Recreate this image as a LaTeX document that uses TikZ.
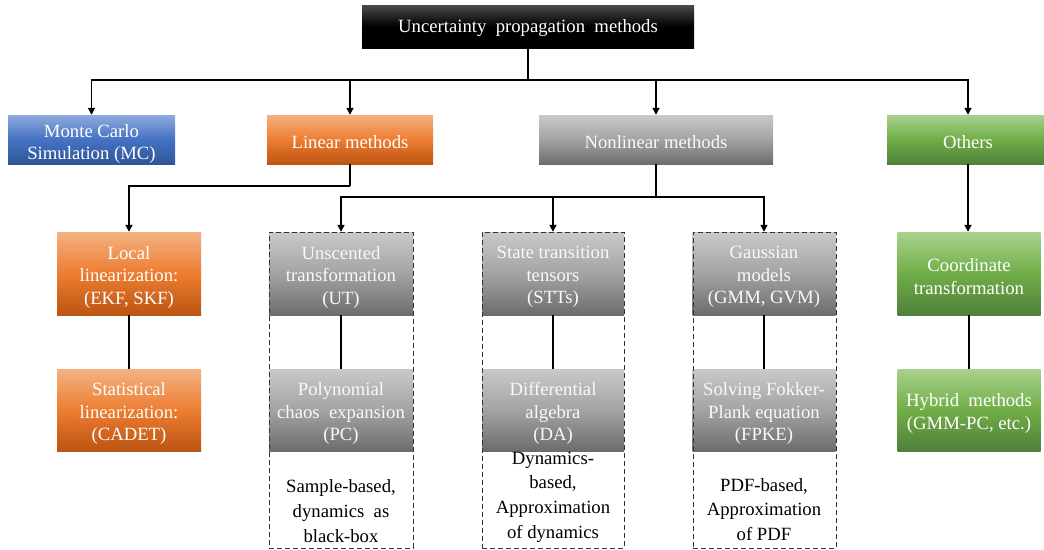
\documentclass[tikz,border=0pt]{standalone}
\usepackage{fontspec}
\setmainfont{Liberation Serif}
\usetikzlibrary{arrows.meta,calc}
\definecolor{orTop}{HTML}{F4B183}
\definecolor{orMid}{HTML}{ED7D31}
\definecolor{orBot}{HTML}{BC5412}
\definecolor{blTop}{HTML}{8FAADC}
\definecolor{blMid}{HTML}{4472C4}
\definecolor{blBot}{HTML}{2F5597}
\definecolor{grTop}{HTML}{C9C9C9}
\definecolor{grMid}{HTML}{A3A3A3}
\definecolor{grBot}{HTML}{6C6C6C}
\definecolor{gnTop}{HTML}{A9D18E}
\definecolor{gnMid}{HTML}{70AD47}
\definecolor{gnBot}{HTML}{50803A}
\definecolor{bkTop}{HTML}{4A4A4A}
\begin{document}
\begin{tikzpicture}[x=1pt,y=-1pt,
  every node/.style={font=\fontsize{18.7}{22.5}\selectfont, inner sep=0pt, align=center},
  box/.style={minimum height=49pt},
  tallbox/.style={minimum height=83pt, minimum width=144pt},
  orangebox/.style={top color=orTop, bottom color=orBot, middle color=orMid},
  bluebox/.style={top color=blTop, bottom color=blBot, middle color=blMid},
  greybox/.style={top color=grTop, bottom color=grBot, middle color=grMid},
  greenbox/.style={top color=gnTop, bottom color=gnBot, middle color=gnMid},
  blackbox/.style={top color=bkTop, bottom color=black, middle color=black},
  lbl/.style={text=white},
  glbl/.style={text=white!95!gray},
  grp/.style={draw=black!80, line width=1pt, dash pattern=on 5pt off 3pt},
  note/.style={font=\fontsize{18.7}{24.7}\selectfont, text=black},
  conn/.style={draw=black, line width=1.6pt},
  arr/.style={conn, -{Triangle[length=7pt,width=7pt]}}
]
\useasboundingbox (0,0) rectangle (1044,549);

% top
\node[blackbox, minimum width=332pt, minimum height=43pt] (top) at (528,26.5) {};
\node[lbl] (topt) at ($(top.center)+(0,2)$) {Uncertainty\ \ propagation\ \ methods};

% first row
\node[box, bluebox, minimum width=167pt] (mc) at (91.5,139.5) {};
\node[lbl] (mct) at ($(mc.center)+(0,4.5)$) {Monte Carlo\\Simulation (MC)};
\node[box, orangebox, minimum width=166pt] (lin) at (350,139.5) {};
\node[lbl] (lint) at ($(lin.center)+(0,3)$) {Linear methods};
\node[box, greybox, minimum width=234pt] (nonlin) at (656,139.5) {};
\node[glbl] (nonlint) at ($(nonlin.center)+(0,3)$) {Nonlinear methods};
\node[box, greenbox, minimum width=162pt] (oth) at (968,139.5) {};
\node[lbl] (otht) at ($(oth.center)+(0,3)$) {Others};

% second row
\node[tallbox, orangebox] (loc) at (129,273.5) {};
\node[lbl] (loct) at ($(loc.center)+(0,3.5)$) {Local\\linearization:\\(EKF, SKF)};
\node[tallbox, orangebox, minimum height=82pt] (stat) at (129,410) {};
\node[lbl] (statt) at ($(stat.center)+(0,3.5)$) {Statistical\\linearization:\\(CADET)};
\node[tallbox, greybox] (ut) at (341,273.5) {};
\node[glbl] (utt) at ($(ut.center)+(0,3.5)$) {Unscented\\transformation\\(UT)};
\node[tallbox, greybox, minimum height=82pt] (pc) at (341,410) {};
\node[glbl] (pct) at ($(pc.center)+(0,3.5)$) {Polynomial\\chaos\ \ expansion\\(PC)};
\node[tallbox, greybox, minimum width=142pt] (stt) at (553,273.5) {};
\node[glbl] (sttt) at ($(stt.center)+(0,3.5)$) {State transition\\tensors\\(STTs)};
\node[tallbox, greybox, minimum width=142pt, minimum height=82pt] (da) at (553,410) {};
\node[glbl] (dat) at ($(da.center)+(0,3.5)$) {Differential\\algebra\\(DA)};
\node[tallbox, greybox, minimum width=143pt] (gau) at (764,273.5) {};
\node[glbl] (gaut) at ($(gau.center)+(0,3.5)$) {Gaussian\\models\\(GMM, GVM)};
\node[tallbox, greybox, minimum width=143pt, minimum height=82pt] (fp) at (764,410) {};
\node[glbl] (fpt) at ($(fp.center)+(0,3.5)$) {Solving Fokker-\\Plank equation\\(FPKE)};
\node[tallbox, greenbox, minimum width=143pt] (coo) at (969,273.5) {};
\node[lbl] (coot) at ($(coo.center)+(0,3)$) {Coordinate\\transformation};
\node[tallbox, greenbox, minimum width=143pt, minimum height=82pt] (hyb) at (969,410) {};
\node[lbl] (hybt) at ($(hyb.center)+(0,3.5)$) {Hybrid\ \ methods\\(GMM-PC, etc.)};

% notes
\node[note] (n1) at (341,511) {Sample-based,\\dynamics\ \ as\\black-box};
\node[note] (n2) at (553,497) {Dynamics-\\based,\\Approximation\\of dynamics};
\node[note] (n3) at (764,509.5) {PDF-based,\\Approximation\\of PDF};

% dashed groups
\node[grp, minimum width=144pt, minimum height=316pt] (g1) at (341,390) {};
\node[grp, minimum width=142pt, minimum height=316pt] (g2) at (553,390) {};
\node[grp, minimum width=143pt, minimum height=316pt] (g3) at (764.5,390) {};

% connectors
\coordinate (bus) at (528,80);
\coordinate (lb) at (350,186);
\coordinate (nb) at (656,197);
\draw[conn] (top.south) -- (bus);
\draw[arr] (bus) -| (mc.north);
\draw[arr] (bus) -| (lin.north);
\draw[arr] (bus) -| (nonlin.north);
\draw[arr] (bus) -| (oth.north);
\draw[conn] (lin.south) -- (lb);
\draw[arr] (lb) -| (loc.north);
\draw[conn] (nonlin.south) -- (nb);
\draw[arr] (nb) -| (ut.north);
\draw[arr] (nb) -| (stt.north);
\draw[arr] (nb) -| (gau.north);
\draw[arr] (oth.south) -- (oth.south |- coo.north);
\draw[conn] (loc.south) -- (stat.north);
\draw[conn] (ut.south) -- (pc.north);
\draw[conn] (stt.south) -- (da.north);
\draw[conn] (gau.south) -- (fp.north);
\draw[conn] (coo.south) -- (hyb.north);
\end{tikzpicture}
\end{document}
